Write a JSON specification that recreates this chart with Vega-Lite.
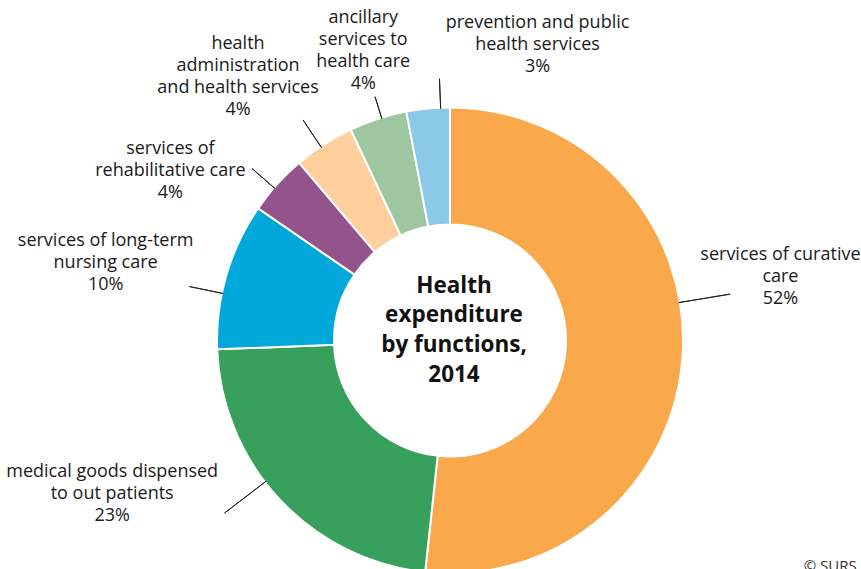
{
  "$schema": "https://vega.github.io/schema/vega-lite/v6.json",
  "autosize": {"type": "none"},
  "width": 822,
  "height": 459,
  "padding": {"left": 39, "top": 111, "right": 0, "bottom": 0},
  "background": "white",
  "config": {"view": {"stroke": null}, "font": "Open Sans"},
  "data": {
    "values": [
      {"cat": "curative", "share": 51.7, "ord": 1, "label": "services of curative\ncare\n52%"},
      {"cat": "medical", "share": 22.7, "ord": 2, "label": "medical goods dispensed\nto out patients\n23%"},
      {"cat": "longterm", "share": 10.2, "ord": 3, "label": "services of long-term\nnursing care\n10%"},
      {"cat": "rehab", "share": 4.2, "ord": 4, "label": "services of\nrehabilitative care\n4%"},
      {"cat": "admin", "share": 4.2, "ord": 5, "label": "health\nadministration\nand health services\n4%"},
      {"cat": "ancillary", "share": 4.0, "ord": 6, "label": "ancillary\nservices to\nhealth care\n4%"},
      {"cat": "prevention", "share": 3.0, "ord": 7, "label": "prevention and public\nhealth services\n3%"}
    ]
  },
  "encoding": {
    "theta": {"field": "share", "type": "quantitative", "stack": true},
    "order": {"field": "ord", "type": "quantitative"}
  },
  "layer": [
    {
      "mark": {"type": "arc", "radius": 233, "radius2": 116, "stroke": "white", "strokeWidth": 2},
      "encoding": {
        "color": {"field": "cat", "type": "nominal", "legend": null,
          "scale": {"domain": ["curative", "medical", "longterm", "rehab", "admin", "ancillary", "prevention"],
                    "range": ["#F9A84B", "#38A05D", "#00A8D9", "#93548B", "#FDCF9D", "#9DC6A1", "#8ACAE8"]}}
      }
    },
    {
      "mark": {"type": "arc", "filled": false, "stroke": "#222222", "strokeWidth": 1, "padAngle": 3.1416, "radius": 284, "radius2": 232, "thetaOffset": -4.7822},
      "encoding": {"opacity": {"condition": {"test": "datum.cat === 'prevention'", "value": 1}, "value": 0}}
    },
    {
      "mark": {"type": "arc", "filled": false, "stroke": "#222222", "strokeWidth": 1, "padAngle": 3.1416, "radius": 284, "radius2": 232, "thetaOffset": 0.0977},
      "encoding": {"opacity": {"condition": {"test": "datum.cat === 'medical'", "value": 1}, "value": 0}}
    },
    {
      "mark": {"type": "arc", "filled": false, "stroke": "#222222", "strokeWidth": 1, "padAngle": 3.1416, "radius": 266, "radius2": 232, "thetaOffset": -0.0785},
      "encoding": {"opacity": {"condition": {"test": "datum.cat === 'longterm'", "value": 1}, "value": 0}}
    },
    {
      "mark": {"type": "arc", "filled": false, "stroke": "#222222", "strokeWidth": 1, "padAngle": 3.1416, "radius": 262, "radius2": 232, "thetaOffset": -0.02},
      "encoding": {"opacity": {"condition": {"test": "datum.cat === 'rehab'", "value": 1}, "value": 0}}
    },
    {
      "mark": {"type": "arc", "filled": false, "stroke": "#222222", "strokeWidth": 1, "padAngle": 3.1416, "radius": 265, "radius2": 232, "thetaOffset": -0.016},
      "encoding": {"opacity": {"condition": {"test": "datum.cat === 'admin'", "value": 1}, "value": 0}}
    },
    {
      "mark": {"type": "arc", "filled": false, "stroke": "#222222", "strokeWidth": 1, "padAngle": 3.1416, "radius": 255, "radius2": 232, "thetaOffset": 0.016},
      "encoding": {"opacity": {"condition": {"test": "datum.cat === 'ancillary'", "value": 1}, "value": 0}}
    },
    {
      "mark": {"type": "arc", "filled": false, "stroke": "#222222", "strokeWidth": 1, "padAngle": 3.1416, "radius": 262, "radius2": 232, "thetaOffset": 0.054},
      "encoding": {"opacity": {"condition": {"test": "datum.cat === 'prevention'", "value": 1}, "value": 0}}
    },
    {
      "mark": {"type": "text", "radius": 336.5, "thetaOffset": -0.2436, "dy": -22, "lineBreak": "\n", "fontSize": 18, "lineHeight": 22, "font": "Open Sans", "align": "center", "baseline": "middle", "color": "#1a1a1a"},
      "encoding": {"text": {"condition": {"test": "datum.cat === 'curative'", "field": "label", "type": "nominal"}, "value": ""}}
    },
    {
      "mark": {"type": "text", "radius": 371, "thetaOffset": 0.3246, "dy": -22, "lineBreak": "\n", "fontSize": 18, "lineHeight": 22, "font": "Open Sans", "align": "center", "baseline": "middle", "color": "#1a1a1a"},
      "encoding": {"text": {"condition": {"test": "datum.cat === 'medical'", "field": "label", "type": "nominal"}, "value": ""}}
    },
    {
      "mark": {"type": "text", "radius": 353, "thetaOffset": -0.0611, "dy": -22, "lineBreak": "\n", "fontSize": 18, "lineHeight": 22, "font": "Open Sans", "align": "center", "baseline": "middle", "color": "#1a1a1a"},
      "encoding": {"text": {"condition": {"test": "datum.cat === 'longterm'", "field": "label", "type": "nominal"}, "value": ""}}
    },
    {
      "mark": {"type": "text", "radius": 327, "thetaOffset": -0.19, "dy": -22, "lineBreak": "\n", "fontSize": 18, "lineHeight": 22, "font": "Open Sans", "align": "center", "baseline": "middle", "color": "#1a1a1a"},
      "encoding": {"text": {"condition": {"test": "datum.cat === 'rehab'", "field": "label", "type": "nominal"}, "value": ""}}
    },
    {
      "mark": {"type": "text", "radius": 338, "thetaOffset": -0.106, "dy": -33, "lineBreak": "\n", "fontSize": 18, "lineHeight": 22, "font": "Open Sans", "align": "center", "baseline": "middle", "color": "#1a1a1a"},
      "encoding": {"text": {"condition": {"test": "datum.cat === 'admin'", "field": "label", "type": "nominal"}, "value": ""}}
    },
    {
      "mark": {"type": "text", "radius": 302, "thetaOffset": 0.0227, "dy": -33, "lineBreak": "\n", "fontSize": 18, "lineHeight": 22, "font": "Open Sans", "align": "center", "baseline": "middle", "color": "#1a1a1a"},
      "encoding": {"text": {"condition": {"test": "datum.cat === 'ancillary'", "field": "label", "type": "nominal"}, "value": ""}}
    },
    {
      "mark": {"type": "text", "radius": 308.5, "thetaOffset": 0.382, "dy": -22, "lineBreak": "\n", "fontSize": 18, "lineHeight": 22, "font": "Open Sans", "align": "center", "baseline": "middle", "color": "#1a1a1a"},
      "encoding": {"text": {"condition": {"test": "datum.cat === 'prevention'", "field": "label", "type": "nominal"}, "value": ""}}
    },
    {
      "mark": {"type": "text", "radius": 0, "lineBreak": "\n", "fontSize": 22.5, "lineHeight": 29.7, "fontWeight": "bold", "font": "Open Sans", "align": "center", "baseline": "middle", "color": "#111111", "dx": 4, "dy": -55},
      "encoding": {"text": {"condition": {"test": "datum.cat === 'curative'", "value": "Health\nexpenditure\nby functions,\n2014"}, "value": ""}}
    },
    {
      "mark": {"type": "text", "radius": 465, "thetaOffset": 0.4528, "fontSize": 15, "font": "Open Sans", "align": "right", "baseline": "middle", "color": "#333333"},
      "encoding": {"text": {"condition": {"test": "datum.cat === 'curative'", "value": "© SURS"}, "value": ""}}
    }
  ]
}
